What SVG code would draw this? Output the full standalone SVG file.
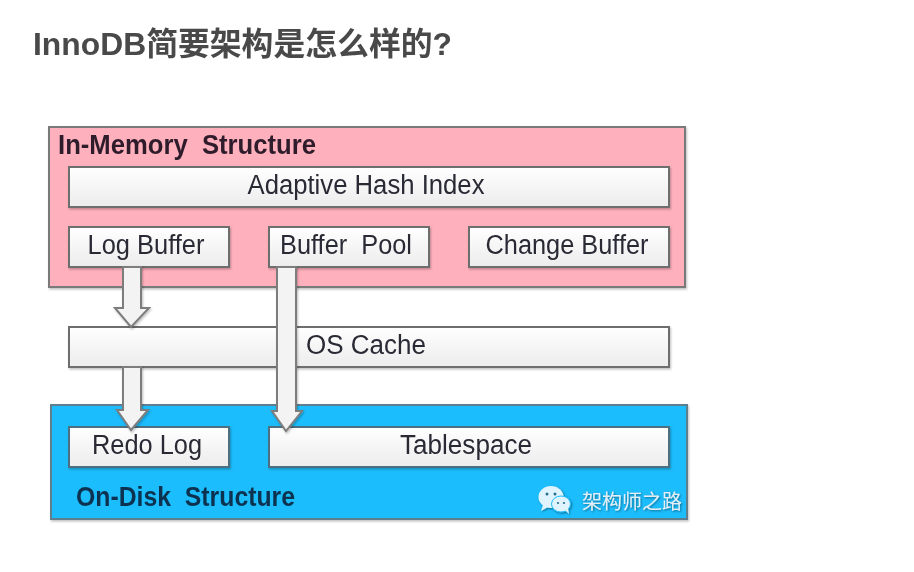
<svg xmlns="http://www.w3.org/2000/svg" width="914" height="572" viewBox="0 0 914 572">
<defs>
<linearGradient id="g" x1="0" y1="0" x2="0" y2="1"><stop offset="0" stop-color="#ffffff"/><stop offset="1" stop-color="#ececec"/></linearGradient>
<filter id="s" x="-5%" y="-10%" width="110%" height="125%"><feDropShadow dx="1" dy="1.5" stdDeviation="1.2" flood-color="#000" flood-opacity="0.25"/></filter>
<filter id="b" filterUnits="userSpaceOnUse" x="0" y="100" width="914" height="450"><feGaussianBlur stdDeviation="0.55"/></filter>
<filter id="tb" filterUnits="userSpaceOnUse" x="0" y="0" width="914" height="100"><feGaussianBlur stdDeviation="0.3"/></filter>
<filter id="w" filterUnits="userSpaceOnUse" x="520" y="470" width="180" height="60"><feDropShadow dx="1" dy="1" stdDeviation="0.8" flood-color="#000" flood-opacity="0.45"/></filter>
</defs>
<style>
.box{fill:url(#g);stroke:#6e6e6e;stroke-width:2}
.blue{stroke:#4d6f80}
.arrow{fill:#f3f3f3;stroke:#7d7d7d;stroke-width:2;stroke-linejoin:miter}
text{font-family:"Liberation Sans",Arial,"Noto Sans CJK SC",sans-serif;text-anchor:middle;fill:#2a2a36;white-space:pre}
.t{font-size:27px}
.h{font-size:27px;font-weight:700;text-anchor:start}
.title{font-size:32px;font-weight:700;fill:#4a4a4a;text-anchor:start}
</style>
<rect width="914" height="572" fill="#fff"/>
<text class="title" x="33" y="55" filter="url(#tb)" textLength="419" lengthAdjust="spacingAndGlyphs">InnoDB简要架构是怎么样的?</text>
<g filter="url(#b)">
<g id="in-memory"><rect x="49" y="127" width="636" height="160" fill="#ffb0bd" stroke="#7a7a7a" stroke-width="2" filter="url(#s)"/>
<text class="h" x="58" y="154" fill="#2e1c2c" style="fill:#2e1c2c" textLength="258" lengthAdjust="spacingAndGlyphs">In-Memory  Structure</text></g>
<g id="adaptive-hash-index"><rect class="box" x="69" y="167" width="600" height="40" filter="url(#s)"/><text class="t" x="366" y="194" textLength="237" lengthAdjust="spacingAndGlyphs">Adaptive Hash Index</text></g>
<g id="log-buffer"><rect class="box" x="69" y="227" width="160" height="40" filter="url(#s)"/><text class="t" x="146" y="254" textLength="117" lengthAdjust="spacingAndGlyphs">Log Buffer</text></g>
<g id="buffer-pool"><rect class="box" x="269" y="227" width="160" height="40" filter="url(#s)"/><text class="t" x="346" y="254" textLength="132" lengthAdjust="spacingAndGlyphs">Buffer  Pool</text></g>
<g id="change-buffer"><rect class="box" x="469" y="227" width="200" height="40" filter="url(#s)"/><text class="t" x="567" y="254" textLength="163" lengthAdjust="spacingAndGlyphs">Change Buffer</text></g>
<g id="os-cache"><rect class="box" x="69" y="327" width="600" height="40" filter="url(#s)"/><text class="t" x="366" y="354" textLength="120" lengthAdjust="spacingAndGlyphs">OS Cache</text></g>
<g id="on-disk"><rect x="51" y="405" width="636" height="114" fill="#1fbdfd" stroke="#5f7f8f" stroke-width="2" filter="url(#s)"/>
<text class="h" x="76" y="506" style="fill:#0b3350" textLength="219" lengthAdjust="spacingAndGlyphs">On-Disk  Structure</text></g>
<g id="redo-log"><rect class="box blue" x="69" y="427" width="160" height="40" filter="url(#s)"/><text class="t" x="147" y="454" textLength="110" lengthAdjust="spacingAndGlyphs">Redo Log</text></g>
<g id="tablespace"><rect class="box blue" x="269" y="427" width="400" height="40" filter="url(#s)"/><text class="t" x="466" y="454" textLength="132" lengthAdjust="spacingAndGlyphs">Tablespace</text></g>
<g id="connectors" filter="url(#s)">
<path class="arrow" d="M123 267V308H115L131 327L149 308H141V267Z"/>
<path class="arrow" d="M123 367V410H117L131 430L148 410H141V367Z"/>
<path class="arrow" d="M277 267V411H272L286 431L302 411H296V267Z"/>
</g>
<g id="watermark" filter="url(#w)">
<ellipse cx="551" cy="497" rx="12.5" ry="11" fill="#dff4ff"/><path d="M543 505l-2 6 7-4z" fill="#dff4ff"/>
<ellipse cx="561" cy="504" rx="9.5" ry="8" fill="#dff4ff" stroke="#1fbdfd"/><path d="M565 510l4 4-1-6z" fill="#dff4ff"/>
<circle cx="547" cy="494" r="1.5" fill="#2a6f8f"/><circle cx="555" cy="494" r="1.5" fill="#2a6f8f"/><circle cx="558" cy="503" r="1.1" fill="#2a6f8f"/><circle cx="564" cy="503" r="1.1" fill="#2a6f8f"/>
<text x="632" y="509" style="font-size:20px;fill:#e4eef4" textLength="100" lengthAdjust="spacingAndGlyphs">架构师之路</text></g>
</g>
</svg>
